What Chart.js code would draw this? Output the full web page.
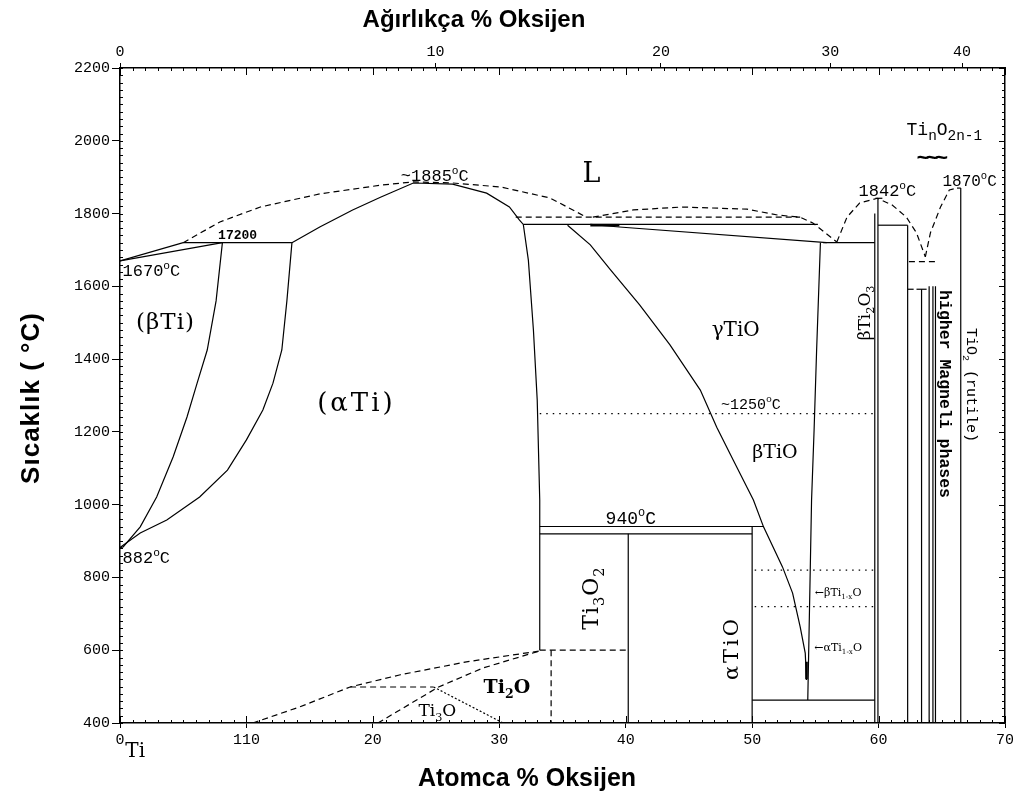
<!DOCTYPE html>
<html><head><meta charset="utf-8">
<script src="https://cdn.jsdelivr.net/npm/chart.js@4.4.1/dist/chart.umd.min.js"></script>
<style>html,body{margin:0;padding:0;background:#fff}#wrap{width:1013px;height:793px;position:relative}</style>
</head><body><div id="wrap"><canvas id="c" width="1013" height="793"></canvas></div>
<script>
// ---------- axis ticks ----------
const atTicks = [0,10,20,30,40,50,60,70];
const atTickLabels = ['0','110','20','30','40','50','60','70'];
const wtTicks = [0,10,20,30,40];
const wtTickLabels = ['0','10','20','30','40'];
const tempTicks = [400,600,800,1000,1200,1400,1600,1800,2000,2200];
const tempTickLabels = ['400','600','800','1000','1200','1400','1600','1800','2000','2200'];

// ---------- phase boundaries: [at% O, T degC] ----------
const betaLiqUpper   = [[0,1670],[5.0,1720]];
const betaSolLower   = [[0,1670],[8.1,1720]];
const peritectic1720 = [[5.0,1720],[13.6,1720]];
const betaTransus    = [[8.1,1720],[7.6,1560],[6.9,1425],[6.1,1334],[5.3,1241],[4.2,1131],[2.9,1021],[1.6,939],[0.25,884],[0,882]];
const alphaTransus   = [[13.6,1720],[13.2,1560],[12.8,1425],[12.1,1334],[11.3,1260],[10.0,1178],[8.5,1095],[6.3,1021],[3.7,958],[1.6,922],[0,882]];
const alphaDome      = [[13.6,1720],[15.8,1763],[18.4,1810],[20.6,1845],[23.2,1884],[26.3,1881],[29.0,1856],[30.8,1818],[31.6,1782],[31.9,1770],[32.3,1672],[32.7,1480],[33.0,1288],[33.2,1013],[33.2,600]];
const liquidusLeft   = [[5.0,1720],[7.9,1777],[11.1,1818],[15.8,1854],[20.6,1878],[23.2,1887],[26.3,1884],[30.1,1873],[34.0,1843],[36.9,1790]];
const dashed1790     = [[31.3,1790],[53.8,1790]];
const peritectic1770 = [[31.9,1770],[55.2,1770]];
const thick1770      = [[37.2,1768],[39.5,1768]];
const gammaLiqSlope  = [[37.2,1770],[39.5,1763],[55.9,1720]];
const eutectic1720   = [[55.6,1720],[59.7,1720]];
const liquidusDome   = [[37.4,1790],[40.6,1810],[44.5,1818],[49.6,1812],[52.0,1796],[53.8,1790],[54.8,1774],[56.7,1722]];
const liquidusTi2O3  = [[56.7,1722],[57.5,1790],[58.5,1829],[59.9,1842],[61.1,1823],[62.2,1790],[63.0,1747],[63.7,1681]];
const liquidusTiO2   = [[63.7,1681],[64.1,1747],[64.9,1818],[65.6,1865],[66.2,1870]];
const gammaRight     = [[55.4,1720],[55.1,1425],[54.9,1205],[54.7,1013],[54.6,829],[54.4,463]];
const betaTiOCurve   = [[35.4,1768],[37.2,1714],[38.8,1645],[41.1,1549],[43.5,1439],[45.9,1315],[47.2,1213],[48.5,1123],[50.1,1013],[50.9,939],[52.4,829],[53.2,757],[53.8,664],[54.2,592],[54.3,518]];
const thickBetaTiO   = [[54.3,568],[54.3,520]];
const line940        = [[33.2,940],[50.9,940]];
const line920        = [[33.2,920],[50.0,920]];
const alphaTiOLeft   = [[50.0,940],[50.0,400]];
const ti3o2Right     = [[40.2,920],[40.2,400]];
const line460        = [[50.0,463],[59.7,463]];
const dotted1250     = [[33.2,1250],[59.6,1250]];
const dotted820      = [[50.2,820],[59.6,820]];
const dotted720      = [[50.2,720],[59.6,720]];
const ti2o3A         = [[59.95,1842],[59.95,400]];
const ti2o3B         = [[59.7,1800],[59.7,400]];
const ti2o3Cap       = [[59.75,1842],[60.3,1842]];
const ti3o5Top       = [[59.95,1768],[62.3,1768]];
const magneli1       = [[62.3,1768],[62.3,400]];
const magneli2       = [[63.4,1592],[63.4,400]];
const magneli3       = [[64.0,1600],[64.0,400]];
const magneli4       = [[64.3,1600],[64.3,400]];
const magneli5       = [[64.5,1600],[64.5,400]];
const magneliTick    = [[63.0,1592],[63.8,1592]];
const magneliDash1600= [[62.3,1592],[62.9,1592]];
const dashed1670     = [[62.4,1668],[64.5,1668]];
const rutile         = [[66.5,1870],[66.5,400]];
const rutileCap      = [[66.2,1870],[66.5,1870]];
const ti2oLeft       = [[10.5,400],[14.2,444],[18.2,499],[22.1,532],[27.4,568],[33.2,598]];
const ti2o500        = [[18.2,499],[24.8,499]];
const ti3oLeft       = [[20.4,400],[25.2,499],[28.7,551],[33.2,598]];
const ti3oRight      = [[24.8,499],[30.3,400]];
const ti2oRight      = [[34.1,600],[34.1,400]];
const dashed600      = [[33.2,600],[40.2,600]];

const lines = [
  [betaLiqUpper,'s'],[betaSolLower,'s'],[peritectic1720,'s'],[betaTransus,'s'],[alphaTransus,'s'],
  [alphaDome,'s'],[liquidusLeft,'d'],[dashed1790,'d'],[peritectic1770,'s'],[thick1770,'t'],
  [gammaLiqSlope,'s'],[eutectic1720,'s'],[liquidusDome,'d'],[liquidusTi2O3,'d'],[liquidusTiO2,'d'],
  [gammaRight,'s'],[betaTiOCurve,'s'],[thickBetaTiO,'t'],[line940,'s'],[line920,'s'],
  [alphaTiOLeft,'s'],[ti3o2Right,'s'],[line460,'s'],[dotted1250,'o'],[dotted820,'o'],[dotted720,'o'],
  [ti2o3A,'s'],[ti2o3B,'s'],[ti2o3Cap,'s'],[ti3o5Top,'s'],[magneli1,'s'],[magneli2,'s'],[magneli3,'s'],
  [magneli4,'s'],[magneli5,'s'],[magneliTick,'s'],[magneliDash1600,'d'],[dashed1670,'d'],[rutile,'s'],[rutileCap,'s'],
  [ti2oLeft,'d'],[ti2o500,'d'],[ti3oLeft,'d'],[ti3oRight,'f'],[ti2oRight,'d'],[dashed600,'d']
];

// ---------- labels (data coordinates) ----------
const MONO = "'Liberation Mono','DejaVu Sans Mono',monospace";
const SERIF = "'DejaVu Serif','Liberation Serif',serif";
const SANS = "'Liberation Sans',Arial,sans-serif";
const phaseLabels = [
  {t:'1670^{o}C', x:0.2, y:1645, f:MONO, s:17, a:'left'},
  {t:'17200', x:9.3, y:1744, f:MONO, s:13, w:'bold'},
  {t:'(βTi)', x:3.6, y:1505, f:SERIF, s:23, ls:1},
  {t:'882^{o}C', x:0.2, y:856, f:MONO, s:17, a:'left'},
  {t:'(αTi)', x:18.7, y:1282, f:SERIF, s:26, ls:3},
  {t:'~1885^{o}C', x:24.9, y:1906, f:MONO, s:17},
  {t:'L', x:37.3, y:1914, f:SERIF, s:27},
  {t:'1842^{o}C', x:60.7, y:1865, f:MONO, s:17},
  {t:'1870^{o}C', x:67.2, y:1892, f:MONO, s:16},
  {t:'Ti_{n}O_{2n-1}', x:65.2, y:2035, f:MONO, s:18, sub:0.8},
  {t:'~~~', x:64.1, y:1955, f:MONO, s:22, w:'bold', ls:-4},
  {t:'γTiO', x:48.7, y:1483, f:SERIF, s:20},
  {t:'~1250^{o}C', x:49.9, y:1279, f:MONO, s:15},
  {t:'βTiO', x:51.8, y:1147, f:SERIF, s:19},
  {t:'940^{o}C', x:40.4, y:966, f:MONO, s:18},
  {t:'Ti_{3}O_{2}', x:37.2, y:743, f:SERIF, s:22, r:-90, ls:1},
  {t:'αTiO', x:48.3, y:606, f:SERIF, s:21, r:-90, ls:3},
  {t:'Ti_{2}O', x:30.6, y:502, f:SERIF, s:19, w:'bold'},
  {t:'Ti_{3}O', x:25.1, y:436, f:SERIF, s:17},
  {t:'←βTi_{1-x}O', x:56.8, y:760, f:SERIF, s:11},
  {t:'←αTi_{1-x}O', x:56.8, y:609, f:SERIF, s:11},
  {t:'βTi_{2}O_{3}', x:58.8, y:1527, f:SERIF, s:17, r:-90},
  {t:'higher Magneli phases', x:65.3, y:1304, f:MONO, s:16.5, w:'bold', r:90},
  {t:'TiO_{2} (rutile)', x:67.4, y:1329, f:MONO, s:15, r:90},
  {t:'Ti', x:1.2, y:326, f:SERIF, s:20}
];
const axisTitles = [
  {t:'Ağırlıkça % Oksijen', px:474, py:18, f:SANS, s:24, w:'bold'},
  {t:'Atomca % Oksijen', px:527, py:777, f:SANS, s:25, w:'bold'},
  {t:'Sıcaklık ( °C)', px:30, py:398, f:SANS, s:26, w:'bold', r:-90, ls:1}
];

// ---------- helpers ----------
function wtToAt(w){ const o=w/16, ti=(100-w)/47.867; return 100*o/(o+ti); }
function parseRich(s){
  const out=[]; let i=0, buf='';
  while(i<s.length){
    const c=s[i];
    if((c==='_'||c==='^') && s[i+1]==='{'){
      if(buf){out.push({t:buf,m:0});buf='';}
      const j=s.indexOf('}',i);
      out.push({t:s.slice(i+2,j), m:c==='_'?1:2}); i=j+1;
    } else { buf+=c; i++; }
  }
  if(buf) out.push({t:buf,m:0});
  return out;
}
function drawRich(ctx, L, px, py){
  const segs=parseRich(L.t); const size=L.s; const subS=size*(L.sub||0.66);
  const fnt=sz=>`${L.w||'normal'} ${sz}px ${L.f}`;
  ctx.save();
  ctx.letterSpacing=(L.ls||0)+'px';
  let w=0; segs.forEach(g=>{ctx.font=fnt(g.m?subS:size); g.w=ctx.measureText(g.t).width; w+=g.w;});
  ctx.translate(px,py); ctx.rotate((L.r||0)*Math.PI/180);
  let x0 = L.a==='left'?0:(L.a==='right'?-w:-w/2);
  ctx.textBaseline='alphabetic'; ctx.textAlign='left'; ctx.fillStyle='#000';
  const base=size*0.36;
  segs.forEach(g=>{
    ctx.font=fnt(g.m?subS:size);
    const dy = g.m===1 ? size*0.28 : (g.m===2 ? -size*0.42 : 0);
    ctx.fillText(g.t, x0, base+dy); x0+=g.w;
  });
  ctx.restore();
}

const decorPlugin = {
  id:'decor',
  afterDraw(chart){
    const ctx=chart.ctx, ca=chart.chartArea, xs=chart.scales.x, ys=chart.scales.y;
    ctx.save(); ctx.strokeStyle='#000'; ctx.lineWidth=1;
    const ln=(a,b,c,d)=>{ctx.beginPath();ctx.moveTo(a,b);ctx.lineTo(c,d);ctx.stroke();};
    for(let a=0;a<=70;a++){
      const p=Math.round(xs.getPixelForValue(a))+0.5; const L=a%10===0?7:3;
      ln(p,ca.bottom,p,ca.bottom-L); ln(p,ca.top,p,ca.top+L);
    }
    for(let t=400;t<=2200;t+=20){
      const p=Math.round(ys.getPixelForValue(t))+0.5; const L=t%200===0?6:3;
      ln(ca.left,p,ca.left+3,p); ln(ca.right,p,ca.right-L,p);
    }
    ctx.restore();
    phaseLabels.forEach(L=>drawRich(ctx,L,xs.getPixelForValue(L.x),ys.getPixelForValue(L.y)));
    axisTitles.forEach(L=>drawRich(ctx,L,L.px,L.py));
  }
};

const styles = {
  s:{borderWidth:1.2, borderDash:[]},
  d:{borderWidth:1.2, borderDash:[6,4]},
  o:{borderWidth:1.2, borderDash:[1.5,5]},
  t:{borderWidth:2.6, borderDash:[]},
  f:{borderWidth:1.2, borderDash:[2,2]}
};
const datasets = lines.map(([pts,st])=>({
  data: pts.map(p=>({x:p[0], y:p[1]})),
  showLine:true, pointRadius:0, borderColor:'#000', backgroundColor:'#000',
  borderWidth:styles[st].borderWidth, borderDash:styles[st].borderDash, tension:0, fill:false
}));

const tickFont = {family:MONO, size:15};
const fixPad = s=>{ s.paddingLeft=0; s.paddingRight=0; s.paddingTop=0; s.paddingBottom=0; };
new Chart(document.getElementById('c'), {
  type:'scatter',
  data:{datasets},
  options:{
    responsive:false, animation:false, devicePixelRatio:1,
    layout:{padding:0},
    plugins:{legend:{display:false}, tooltip:{enabled:false}, title:{display:false}},
    scales:{
      x:{type:'linear', position:'bottom', min:0, max:70,
        afterBuildTicks:s=>{s.ticks=atTicks.map(v=>({value:v}));},
        ticks:{callback:(v,i)=>atTickLabels[i], font:tickFont, color:'#000', padding:3, maxRotation:0, autoSkip:false},
        grid:{drawOnChartArea:false, tickLength:5, color:'#000', lineWidth:1},
        border:{color:'#000', width:1.5},
        afterFit:s=>{s.height=70; fixPad(s);} },
      x2:{type:'linear', position:'top', min:0, max:70,
        afterBuildTicks:s=>{s.ticks=wtTicks.map(w=>({value:wtToAt(w)}));},
        ticks:{callback:(v,i)=>wtTickLabels[i], font:tickFont, color:'#000', padding:2, maxRotation:0, autoSkip:false},
        grid:{drawOnChartArea:false, tickLength:5, color:'#000', lineWidth:1},
        border:{color:'#000', width:1.5},
        afterFit:s=>{s.height=68; fixPad(s);} },
      y:{type:'linear', position:'left', min:400, max:2200,
        afterBuildTicks:s=>{s.ticks=tempTicks.map(v=>({value:v}));},
        ticks:{callback:(v,i)=>tempTickLabels[i], font:tickFont, color:'#000', padding:2, autoSkip:false},
        grid:{drawOnChartArea:false, tickLength:8, color:'#000', lineWidth:1},
        border:{color:'#000', width:1.5},
        afterFit:s=>{s.width=120; fixPad(s);} },
      y2:{type:'linear', position:'right', min:400, max:2200,
        ticks:{display:false}, grid:{display:false, drawTicks:false},
        border:{color:'#000', width:1.5},
        afterFit:s=>{s.width=8; fixPad(s);} }
    }
  },
  plugins:[decorPlugin]
});
</script></body></html>
